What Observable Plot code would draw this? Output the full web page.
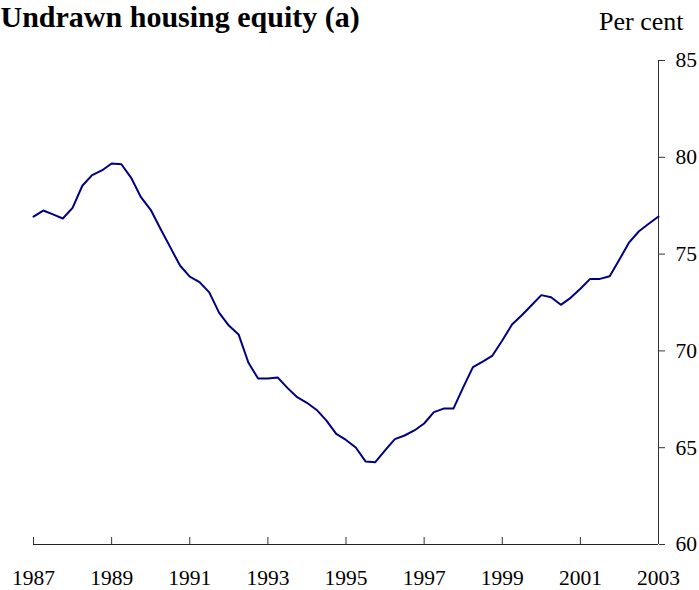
<!DOCTYPE html>
<html>
<head>
<meta charset="utf-8">
<script src="https://cdn.jsdelivr.net/npm/d3@7"></script>
<script src="https://cdn.jsdelivr.net/npm/@observablehq/plot@0.6"></script>
<style>
  html, body { margin: 0; padding: 0; background: #fff; }
  #chart { width: 699px; height: 590px; overflow: hidden; }
</style>
</head>
<body>
<div id="chart"></div>
<script>
// Quarterly series, 1987 Q1 to 2003 Q1 (per cent)
const startYear = 1987;
const equity = [
  76.94, 77.25, 77.05, 76.84, 77.39, 78.53, 79.08, 79.32,
  79.68, 79.64, 78.94, 77.94, 77.29, 76.31, 75.36, 74.41,
  73.84, 73.55, 73.02, 71.98, 71.31, 70.85, 69.40, 68.57,
  68.57, 68.63, 68.09, 67.61, 67.32, 66.95, 66.40, 65.71,
  65.40, 65.01, 64.29, 64.25, 64.86, 65.44, 65.63, 65.89,
  66.25, 66.84, 67.02, 67.02, 68.12, 69.16, 69.45, 69.76,
  70.54, 71.36, 71.84, 72.36, 72.88, 72.77, 72.38, 72.74,
  73.21, 73.72, 73.72, 73.86, 74.72, 75.61, 76.18, 76.57,
  76.94
];
const xTicks = [1987, 1989, 1991, 1993, 1995, 1997, 1999, 2001, 2003];
const yTicks = [60, 65, 70, 75, 80, 85];
const titleText = "Undrawn housing equity (a)";
const unitText = "Per cent";

const data = equity.map((v, i) => ({date: startYear + i / 4, value: v}));

const W = 699, H = 590;
const mTop = 60, mBottom = 46, mLeft = 33, mRight = 41;
const frameH = H - mTop - mBottom;
const serif = "'Liberation Serif', 'Times New Roman', Times, serif";

const chart = Plot.plot({
  width: W,
  height: H,
  marginTop: mTop,
  marginBottom: mBottom,
  marginLeft: mLeft,
  marginRight: mRight,
  style: {fontFamily: serif, fontSize: "21.5px", color: "#000", background: "#fff"},
  x: {domain: [1987, 2003], ticks: xTicks},
  y: {domain: [60, 85], ticks: yTicks},
  marks: [
    Plot.axisX({ticks: xTicks, tickSize: 0, tickPadding: 25, tickFormat: d => String(d), label: null, fontSize: 21.5}),
    Plot.axisY({anchor: "right", ticks: yTicks, tickSize: 6, tickPadding: 11, label: null, fontSize: 21.5, stroke: "#333"}),
    Plot.ruleX(xTicks, {x: d => d, insetTop: frameH - 7, stroke: "#333"}),
    Plot.ruleY([60], {stroke: "#222"}),
    Plot.ruleX([2003], {stroke: "#333"}),
    Plot.line(data, {x: "date", y: "value", stroke: "#000080", strokeWidth: 2}),
    Plot.text([titleText], {frameAnchor: "top-left", dx: -33, dy: -55, textAnchor: "start", fontSize: 30, fontWeight: "bold", fill: "#000"}),
    Plot.text([unitText], {frameAnchor: "top-right", dx: 25, dy: -49, textAnchor: "end", fontSize: 26, fill: "#000"})
  ]
});
document.getElementById("chart").appendChild(chart);
</script>
</body>
</html>
